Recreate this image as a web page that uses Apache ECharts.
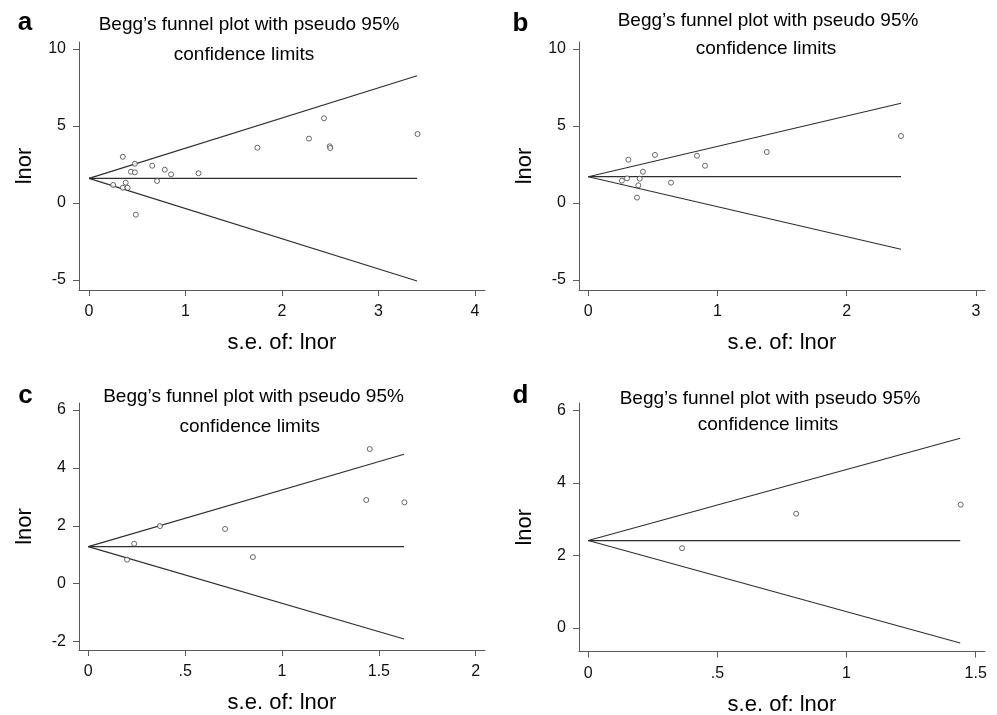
<!DOCTYPE html>
<html>
<head>
<meta charset="utf-8">
<script src="https://cdn.jsdelivr.net/npm/echarts@6/dist/echarts.min.js"></script>
<style>
html,body{margin:0;padding:0;background:#fff;}
#chart{width:997px;height:715px;}
</style>
</head>
<body>
<div id="chart"></div>
<script>
// ---- data ----
const panelLetters = ['a', 'b', 'c', 'd'];
const titleLine1 = 'Begg\u2019s funnel plot with pseudo 95%';
const titleLine2 = 'confidence limits';
const xName = 's.e. of: lnor';
const yName = 'lnor';

// panel a
const seA   = [0.25, 0.35, 0.35, 0.38, 0.40, 0.435, 0.475, 0.475, 0.485, 0.655, 0.705, 0.785, 0.85, 1.135, 1.745, 2.28, 2.435, 2.495, 2.50, 3.405];
const lnorA = [1.17, 3.00, 0.99, 1.32, 0.99, 2.03, 1.99, 2.55, -0.76, 2.42, 1.43, 2.16, 1.86, 1.93, 3.59, 4.18, 5.50, 3.68, 3.57, 4.48];
// panel b
const seB   = [0.26, 0.30, 0.31, 0.377, 0.387, 0.398, 0.423, 0.516, 0.64, 0.841, 0.903, 1.381, 2.42];
const lnorB = [1.45, 1.60, 2.81, 0.35, 1.15, 1.58, 2.03, 3.12, 1.32, 3.07, 2.42, 3.31, 4.35];
// panel c
const seC   = [0.20, 0.237, 0.37, 0.706, 0.85, 1.435, 1.453, 1.632];
const lnorC = [0.83, 1.38, 1.99, 1.89, 0.92, 2.89, 4.65, 2.81];
// panel d
const seD   = [0.363, 0.805, 1.442];
const lnorD = [2.20, 3.15, 3.40];

// funnel (pseudo 95% limits)
const funnelCenter = [1.60, 1.71, 1.28, 2.41];
const funnelSeMax  = [3.40, 2.42, 1.63, 1.44];
const funnelUpper  = [8.26, 6.48, 4.47, 5.23];
const funnelLower  = [-5.06, -3.00, -1.91, -0.41];

// tick labels
const xTicksA = [0, 1, 2, 3, 4];
const xTicksB = [0, 1, 2, 3];
const xTicksC = [0, 0.5, 1, 1.5, 2];
const xTicksD = [0, 0.5, 1, 1.5];
const yTicksA = [-5, 0, 5, 10];
const yTicksB = [-5, 0, 5, 10];
const yTicksC = [-2, 0, 2, 4, 6];
const yTicksD = [0, 2, 4, 6];

// ---- layout ----
const FONT = '"Liberation Sans", Arial, sans-serif';
const AX = '#5a5a5a';
const LN = '#2e2e2e';
const grids = [
  {left: 79,  top: 42,  width: 406, height: 248},
  {left: 579, top: 42,  width: 406, height: 248},
  {left: 79,  top: 403, width: 406, height: 247},
  {left: 579, top: 403, width: 406, height: 248.5}
];
const xRange = [[-0.104, 4.104], [-0.072, 3.07], [-0.048, 2.048], [-0.036, 1.536]];
const yRange = [[-5.65, 10.455], [-5.65, 10.455], [-2.29, 6.24], [-0.645, 6.20]];
const xTicks = [xTicksA, xTicksB, xTicksC, xTicksD];
const yTicks = [yTicksA, yTicksB, yTicksC, yTicksD];
const seAll = [seA, seB, seC, seD];
const lnorAll = [lnorA, lnorB, lnorC, lnorD];

function fmt(v) {
  if (v === 0) return '0';
  let s = String(+v.toFixed(2));
  return s.replace(/^0\./, '.').replace(/^-0\./, '-.');
}

const xAxes = [], yAxes = [], series = [];
for (let i = 0; i < 4; i++) {
  xAxes.push({
    type: 'value', gridIndex: i, min: xRange[i][0], max: xRange[i][1],
    name: xName, nameLocation: 'middle', nameGap: 42,
    nameTextStyle: {fontFamily: FONT, fontSize: 22, color: '#000'},
    axisLine: {show: true, onZero: false, lineStyle: {color: AX, width: 1}},
    axisTick: {show: true, length: 6, customValues: xTicks[i], lineStyle: {color: AX}},
    axisLabel: {customValues: xTicks[i], formatter: fmt, margin: 14, fontFamily: FONT, fontSize: 16, color: '#111'},
    splitLine: {show: false}
  });
  yAxes.push({
    type: 'value', gridIndex: i, min: yRange[i][0], max: yRange[i][1],
    name: yName, nameLocation: 'middle', nameGap: 43,
    nameTextStyle: {fontFamily: FONT, fontSize: 22, color: '#000'},
    axisLine: {show: true, onZero: false, lineStyle: {color: AX, width: 1}},
    axisTick: {show: true, length: 6, customValues: yTicks[i], lineStyle: {color: AX}},
    axisLabel: {customValues: yTicks[i], formatter: fmt, margin: 13, fontFamily: FONT, fontSize: 16, color: '#111'},
    splitLine: {show: false}
  });
  const c = funnelCenter[i], m = funnelSeMax[i];
  const lineStyle = {color: LN, width: 1.1};
  [[[0, c], [m, funnelUpper[i]]], [[0, c], [m, c]], [[0, c], [m, funnelLower[i]]]].forEach(d => {
    series.push({type: 'line', xAxisIndex: i, yAxisIndex: i, data: d, showSymbol: false,
      lineStyle: lineStyle, silent: true, animation: false, z: 2});
  });
  series.push({
    type: 'scatter', xAxisIndex: i, yAxisIndex: i,
    data: seAll[i].map((s, k) => [s, lnorAll[i][k]]),
    symbol: 'circle', symbolSize: 5,
    itemStyle: {color: '#fff', borderColor: '#444', borderWidth: 1},
    animation: false, z: 3
  });
}

const titlePos = [
  {l1: [249, 25], l2: [244, 55], lab: [25, 23]},
  {l1: [768, 21], l2: [766, 48.5], lab: [520.5, 24]},
  {l1: [253.5, 396.7], l2: [249.7, 426.3], lab: [25.5, 396]},
  {l1: [770, 398.3], l2: [768, 424.5], lab: [520.5, 396]}
];
const graphics = [];
titlePos.forEach((p, i) => {
  graphics.push({type: 'text', x: p.l1[0], y: p.l1[1], style: {text: titleLine1, font: '19px ' + FONT, fill: '#000', align: 'center', verticalAlign: 'middle'}});
  graphics.push({type: 'text', x: p.l2[0], y: p.l2[1], style: {text: titleLine2, font: '19px ' + FONT, fill: '#000', align: 'center', verticalAlign: 'middle'}});
  graphics.push({type: 'text', x: p.lab[0], y: p.lab[1], style: {text: panelLetters[i], font: 'bold 26px ' + FONT, fill: '#000', align: 'center', verticalAlign: 'middle'}});
});

const chart = echarts.init(document.getElementById('chart'), null, {renderer: 'canvas'});
chart.setOption({
  backgroundColor: '#fff',
  animation: false,
  grid: grids.map(g => Object.assign({containLabel: false, outerBoundsMode: 'none'}, g)),
  xAxis: xAxes,
  yAxis: yAxes,
  series: series,
  graphic: graphics
});
</script>
</body>
</html>
